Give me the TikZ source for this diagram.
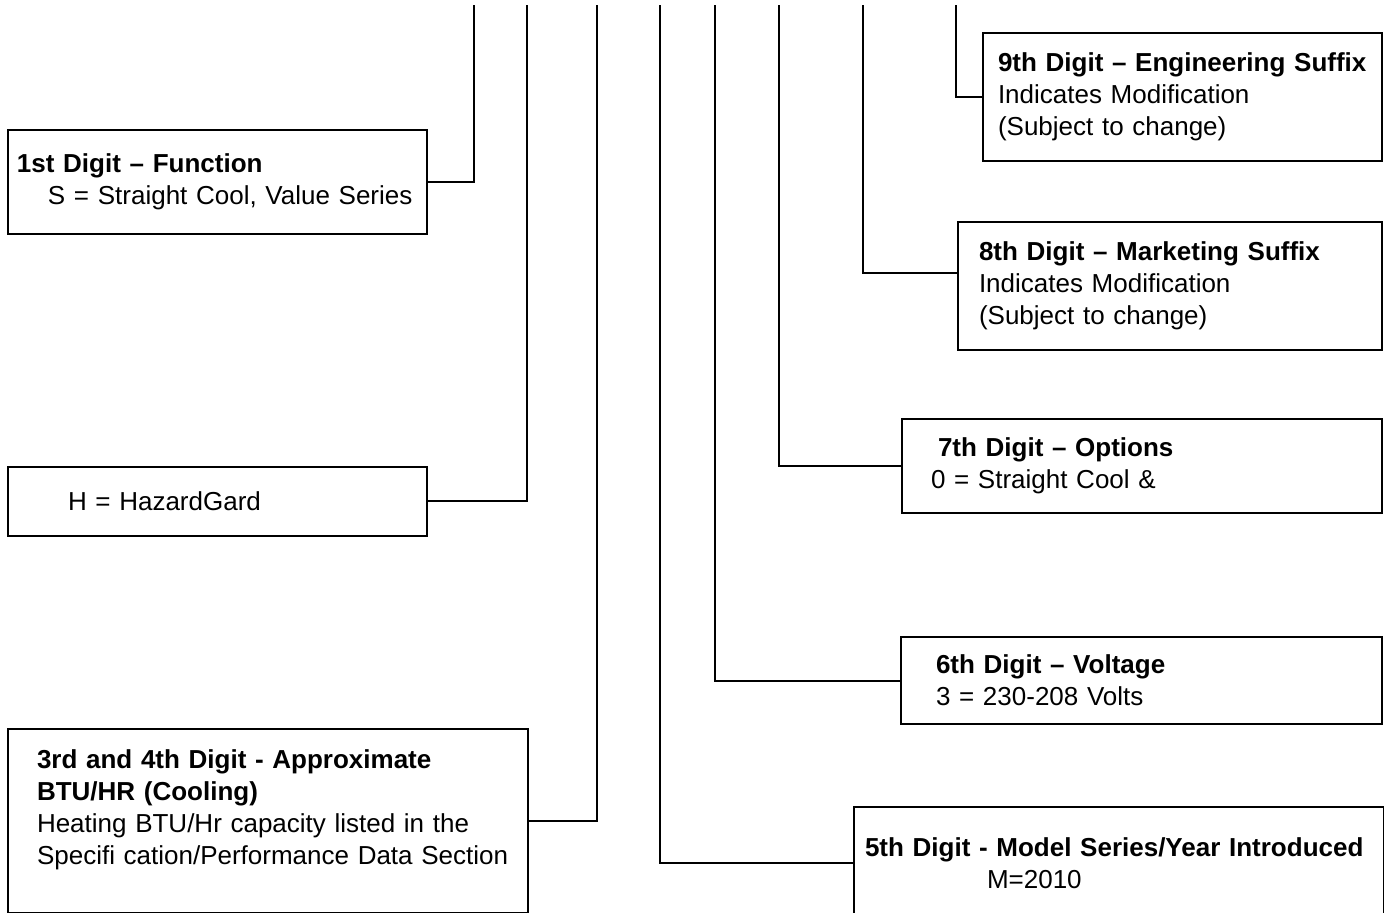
\documentclass[tikz,border=0pt]{standalone}
\usepackage{fontspec}
\setmainfont{Liberation Sans}
\tikzset{
  digit/.style={draw, line width=1pt, anchor=north west, align=left,
    inner xsep=0pt, inner ysep=0pt, font=\fontsize{13}{16}\selectfont},
  lead/.style={line width=1pt}
}
\newcommand{\indentby}[1]{\leftskip=#1\relax}
\begin{document}
\begin{tikzpicture}[x=0.5pt,y=-0.5pt]
    \useasboundingbox (0,0) rectangle (1384,913);
    \clip (0,0) rectangle (1384,913);
    % upper ends of the leads
    \coordinate (t1) at (474,5);
    \coordinate (t2) at (527,5);
    \coordinate (t3) at (597,5);
    \coordinate (t4) at (660,5);
    \coordinate (t5) at (715,5);
    \coordinate (t6) at (779,5);
    \coordinate (t7) at (863,5);
    \coordinate (t8) at (956,5);
    % left column
    \node[digit, text width=209.5pt, minimum height=52pt] (d1) at (7,129)
        {\indentby{4.5pt}\textbf{1st Digit -- Function}\\
         \hspace*{15.5pt}S = Straight Cool, Value Series\par};
    \node[digit, text width=209.5pt, minimum height=34.5pt] (d2) at (7,466)
        {\indentby{30pt}H = HazardGard\par};
    \node[digit, text width=260pt, minimum height=92pt] (d34) at (7,728)
        {\indentby{14.5pt}\textbf{3rd and 4th Digit - Approximate}\\
         \textbf{BTU/HR (Cooling)}\\
         Heating BTU/Hr capacity listed in the\\
         Specifi cation/Performance Data Section\par\kern11pt};
    % right column
    \node[digit, text width=265pt, minimum height=56pt] (d5) at (853,806)
        {\indentby{5.5pt}\textbf{5th Digit - Model Series/Year Introduced}\\
         \hspace*{61pt}M=2010\par};
    \node[digit, text width=240.5pt, minimum height=43.5pt] (d6) at (900,636)
        {\indentby{17.5pt}\textbf{6th Digit -- Voltage}\\
         3 = 230-208 Volts\par};
    \node[digit, text width=240pt, minimum height=47pt] (d7) at (901,418)
        {\indentby{14.5pt}\hspace*{3.5pt}\textbf{7th Digit -- Options}\\
         0 = Straight Cool \&\par};
    \node[digit, text width=212pt, minimum height=64pt] (d8) at (957,221)
        {\indentby{10.5pt}\textbf{8th Digit -- Marketing Suffix}\\
         Indicates Modification\\
         (Subject to change)\par};
    \node[digit, text width=199.5pt, minimum height=64pt] (d9) at (982,32)
        {\indentby{7.5pt}\textbf{9th Digit -- Engineering Suffix}\\
         Indicates Modification\\
         (Subject to change)\par};
    % leads
    \draw[lead] (d1.east) -| (t1);
    \draw[lead] (d2.east) -| (t2);
    \draw[lead] (d34.east) -| (t3);
    \draw[lead] (d5.west) -| (t4);
    \draw[lead] (d6.west) -| (t5);
    \draw[lead] (d7.west) -| (t6);
    \draw[lead] ([yshift=6.5pt]d8.west) -| (t7);
    \draw[lead] (d9.west) -| (t8);
\end{tikzpicture}
\end{document}
